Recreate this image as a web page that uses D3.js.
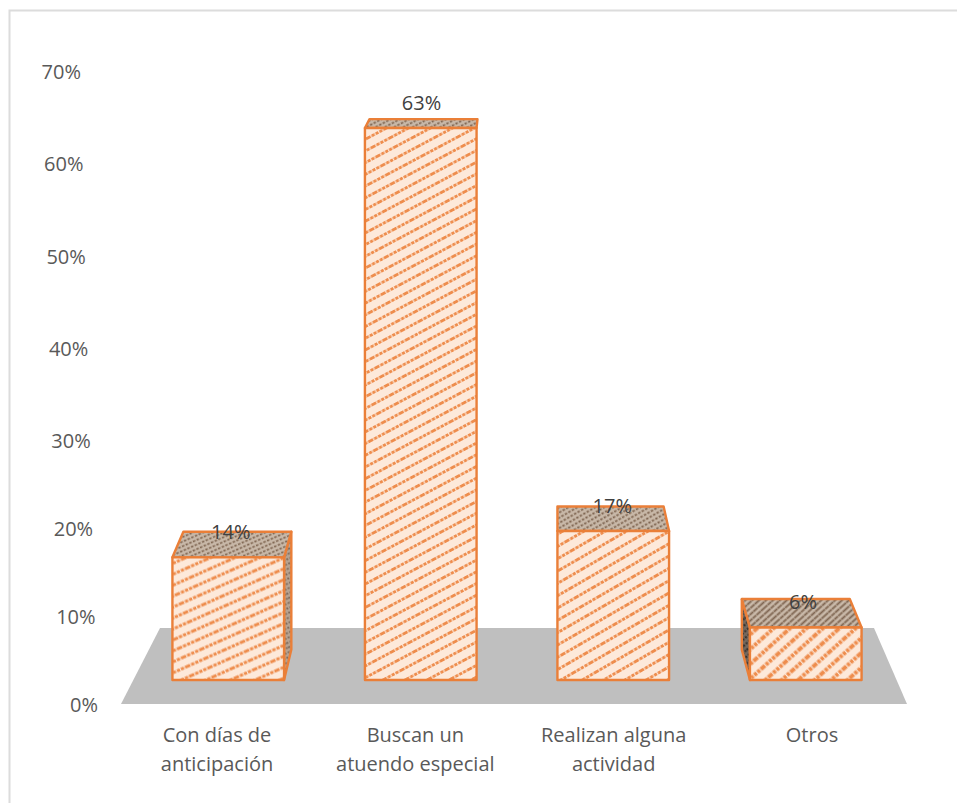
<!DOCTYPE html>
<html>
<head>
<meta charset="utf-8">
<script src="https://cdn.jsdelivr.net/npm/d3@7/dist/d3.min.js"></script>
<style>
html,body{margin:0;padding:0;background:#fff}
svg{display:block}
text{font-family:"Open Sans",sans-serif}
</style>
</head>
<body>
<svg id="chart" width="957" height="803"></svg>
<script>
const categories = [["Con días de","anticipación"],["Buscan un","atuendo especial"],["Realizan alguna","actividad"],["Otros"]];
const values = [14, 63, 17, 6];
const valueLabels = ["14%", "63%", "17%", "6%"];
const tickValues = [0, 10, 20, 30, 40, 50, 60, 70];
const tickLabels = ["0%", "10%", "20%", "30%", "40%", "50%", "60%", "70%"];

const svg = d3.select("#chart");
const ids = categories.map((d, i) => i);

// Layout scales
const x = d3.scaleBand().domain(ids).range([132, 902]).paddingInner(0.42).paddingOuter(0.21);
const y = d3.scaleLinear().domain([0, 63]).range([680, 128]);
const tickY = d3.scaleLinear().domain([0, 30, 70]).range([705, 441, 72]);
const tickRight = d3.scaleLinear().domain([0, 70]).range([98, 81]);
const catX = d3.scaleLinear().domain([0, 3]).range([217, 812]);
const stripeAngle = d3.scaleLinear().domain([0, 1, 2, 3]).range([-24, -28, -30, -42]);
const stripeGap = d3.scaleLinear().domain([0, 3]).range([10, 11]);

// Perspective: the back face shrinks toward a vanishing point
const vanishX = 504, vanishY = -100;
const backX = px => px + (vanishX - px) * 0.033;
const backY = py => py + (vanishY - py) * 0.039;

const defs = svg.append("defs");
defs.append("filter").attr("id", "soft").append("feGaussianBlur").attr("stdDeviation", 0.45);
function hatch(id, i, bg, ink, width, dash, scale) {
  const gap = stripeGap(i) * scale;
  const p = defs.append("pattern").attr("id", id)
    .attr("patternUnits", "userSpaceOnUse")
    .attr("width", 20).attr("height", gap)
    .attr("patternTransform", `rotate(${stripeAngle(i)})`);
  p.append("rect").attr("width", 20).attr("height", gap).attr("fill", bg);
  p.append("line").attr("x1", 0).attr("x2", 20)
    .attr("y1", gap / 2).attr("y2", gap / 2)
    .attr("stroke", ink).attr("stroke-width", width)
    .attr("stroke-dasharray", dash);
}
ids.forEach(i => {
  hatch("front" + i, i, "#fde9da", "#ee8d4e", i === 3 ? 3.8 : 2.8, "3.2 1.2", 1);
  hatch("top" + i, i, "#c8b8a8", "#806753", 1.7, i === 3 ? "5 0.5" : "2.5 1.5", 0.42);
  hatch("side" + i, i, i === 3 ? "#75675c" : "#b7a392", i === 3 ? "#2f2a26" : "#7d6757", 2, "2 1.5", 0.45);
});

// Chart frame
svg.append("path").attr("d", "M9.5,803V10.5H957").attr("fill", "none").attr("stroke", "#dcdcdc").attr("stroke-width", 2);

// Floor
svg.append("polygon").attr("fill", "#bfbfbf")
  .attr("points", [[121, 704], [907, 704], [874, 628], [160, 628]].join(" "));

// Axis labels
svg.append("g").selectAll("text").data(tickValues).join("text")
  .attr("x", d => tickRight(d)).attr("y", d => tickY(d))
  .attr("dy", "0.35em").attr("text-anchor", "end")
  .attr("font-size", 20).attr("fill", "#595959")
  .text((d, i) => tickLabels[i]);

// Bars
const bars = svg.append("g").attr("filter", "url(#soft)").selectAll("g").data(ids).join("g");
const edge = "#ea7f38";
const polygon = (g, pts, fill) => g.append("polygon")
  .attr("points", pts.map(p => p.join(",")).join(" "))
  .attr("fill", fill).attr("stroke", edge).attr("stroke-width", 2.4).attr("stroke-linejoin", "round");

bars.each(function (i) {
  const g = d3.select(this);
  const l = x(i), r = x(i) + x.bandwidth(), t = y(values[i]), b = y(0);
  // side face that faces the viewer (only clearly visible on the outer bars)
  if (i === 0) {
    polygon(g, [[r, t], [backX(r), backY(t)], [backX(r), backY(b)], [r, b]], `url(#side${i})`);
  } else if (i === 3) {
    polygon(g, [[l, t], [backX(l), backY(t)], [backX(l), backY(b)], [l, b]], `url(#side${i})`);
  }
  // top face
  polygon(g, [[l, t], [i === 2 ? l : backX(l), backY(t)], [backX(r), backY(t)], [r, t]], `url(#top${i})`);
  // front face
  polygon(g, [[l, t], [r, t], [r, b], [l, b]], `url(#front${i})`);
});

// Value labels
svg.append("g").selectAll("text").data(ids).join("text")
  .attr("x", i => { const c = x(i) + x.bandwidth() / 2; return c + (vanishX - c) * 0.009; })
  .attr("y", i => y(values[i]) - 25)
  .attr("dy", "0.35em").attr("text-anchor", "middle")
  .attr("font-size", 20).attr("fill", "#404040")
  .text(i => valueLabels[i]);

// Category labels
svg.append("g").selectAll("text").data(ids).join("text")
  .attr("x", i => catX(i))
  .attr("y", 735).attr("text-anchor", "middle")
  .attr("font-size", 20).attr("fill", "#595959")
  .each(function (i) {
    d3.select(this).selectAll("tspan").data(categories[i]).join("tspan")
      .attr("x", catX(i))
      .attr("dy", (d, k) => k === 0 ? "0.35em" : "28.5px")
      .text(d => d);
  });
</script>
</body>
</html>
